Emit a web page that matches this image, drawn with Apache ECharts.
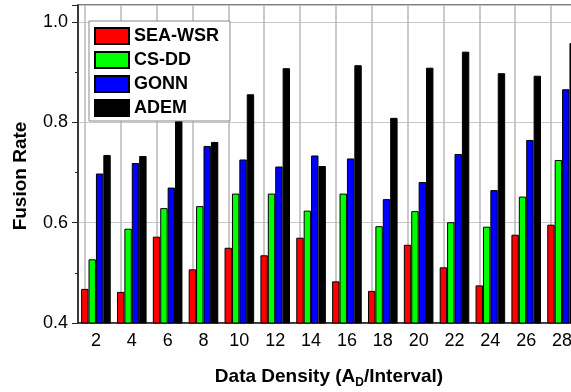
<!DOCTYPE html>
<html>
<head>
<meta charset="UTF-8">
<title>Fusion Rate</title>
	<script src="https://cdn.jsdelivr.net/npm/echarts@6/dist/echarts.min.js"></script>
	<style>
		body { margin: 0; background: #fff; }
	</style>
</head>
<body>
	<div id="main" style="width: 571px;height:392px;"></div>
	<script type="text/javascript">
		// data
		var categories = ['2', '4', '6', '8', '10', '12', '14', '16', '18', '20', '22', '24', '26', '28'];
		var seriesNames = ['SEA-WSR', 'CS-DD', 'GONN', 'ADEM'];
		var seaWsr = [0.468, 0.462, 0.572, 0.507, 0.550, 0.535, 0.570, 0.483, 0.464, 0.556, 0.511, 0.475, 0.576, 0.596];
		var csDd = [0.527, 0.588, 0.629, 0.633, 0.658, 0.658, 0.624, 0.658, 0.593, 0.623, 0.601, 0.592, 0.652, 0.725];
		var gonn = [0.698, 0.719, 0.670, 0.753, 0.726, 0.712, 0.734, 0.728, 0.647, 0.681, 0.737, 0.665, 0.765, 0.866];
		var adem = [0.735, 0.733, 0.803, 0.761, 0.856, 0.908, 0.713, 0.914, 0.809, 0.909, 0.941, 0.898, 0.893, 0.958];
		var colors = ['#ff0000', '#00ff00', '#0000ff', '#000000'];
		var yTicks = [0.4, 0.6, 0.8, 1.0];

		var myChart = echarts.init(document.getElementById('main'));
		var font = 'Arial, "Liberation Sans", sans-serif';

		function bar(name, data, i) {
			var s = {
				name: name,
				type: 'bar',
				data: data,
				barWidth: 7.4,
				barGap: '0%',
				itemStyle: { color: colors[i], borderColor: '#000', borderWidth: 1 }
			};
			if (i === 0) {
				// vertical grid lines at the category labels
				s.markLine = {
					silent: true,
					z: 1,
					symbol: 'none',
					label: { show: false },
					emphasis: { disabled: true },
					lineStyle: { color: '#b8b8b8', type: 'solid', width: 1.5, opacity: 1 },
					data: categories.map(function (c) { return [{ xAxis: c, yAxis: 0.4 }, { xAxis: c, yAxis: 1.034 }]; })
				};
			}
			return s;
		}

		var option = {
			animation: false,
			backgroundColor: '#fff',
			textStyle: { fontFamily: font },
			// the plot runs a little past the right edge of the picture
			grid: { left: 78, right: -9, top: 5, bottom: 69, outerBoundsMode: 'none', show: true, borderColor: '#555', borderWidth: 1.5, backgroundColor: 'transparent' },
			legend: {
				orient: 'vertical',
				left: 89, top: 21,
				data: seriesNames,
				icon: 'rect',
				itemWidth: 34, itemHeight: 16, itemGap: 6,
				padding: [6, 11, 4, 5],
				backgroundColor: '#fff',
				borderColor: '#888', borderWidth: 1,
				textStyle: { fontSize: 18, fontWeight: 'bold', color: '#000', lineHeight: 16 }
			},
			xAxis: [{
				type: 'category',
				data: categories,
				name: '{a|Data Density (A}{s|D}{a|/Interval)}',
				nameLocation: 'middle',
				nameGap: 42,
				nameTextStyle: {
					rich: {
						a: { fontSize: 19, fontWeight: 'bold', color: '#000', fontFamily: font },
						s: { fontSize: 12, fontWeight: 'bold', color: '#000', fontFamily: font, padding: [12, 0, 0, 0] }
					}
				},
				axisLine: { lineStyle: { color: '#222', width: 1.5 } },
				axisTick: { length: 3, lineStyle: { color: '#222' } },
				axisLabel: { fontSize: 18, color: '#000', margin: 9 },
				splitLine: { show: false }
			}, {
				// second copy of the axis: longer ticks under the labels
				type: 'category',
				data: categories,
				position: 'bottom',
				axisLine: { show: false },
				axisTick: { alignWithLabel: true, length: 5, lineStyle: { color: '#222' } },
				axisLabel: { show: false },
				splitLine: { show: false }
			}],
			yAxis: {
				type: 'value',
				min: 0.4, max: 1.034, interval: 0.2,
				name: 'Fusion Rate',
				nameLocation: 'middle',
				nameGap: 48,
				nameTextStyle: { fontSize: 19, fontWeight: 'bold', color: '#000', padding: [0, 24, 0, 0] },
				axisLine: { show: true, lineStyle: { color: '#222', width: 1.5 } },
				axisTick: { show: true, length: 6, lineStyle: { color: '#222' } },
				minorTick: { show: true, splitNumber: 2, length: 3, lineStyle: { color: '#222' } },
				axisLabel: {
					fontSize: 18, color: '#000', margin: 10,
					formatter: function (v) {
						for (var i = 0; i < yTicks.length; i++) {
							if (Math.abs(v - yTicks[i]) < 1e-6) return yTicks[i].toFixed(1);
						}
						return '';
					}
				},
				splitLine: { show: true, lineStyle: { color: '#c8c8c8' } }
			},
			series: [
				bar(seriesNames[0], seaWsr, 0),
				bar(seriesNames[1], csDd, 1),
				bar(seriesNames[2], gonn, 2),
				bar(seriesNames[3], adem, 3)
			]
		};

		myChart.setOption(option);
	</script>
</body>
</html>
